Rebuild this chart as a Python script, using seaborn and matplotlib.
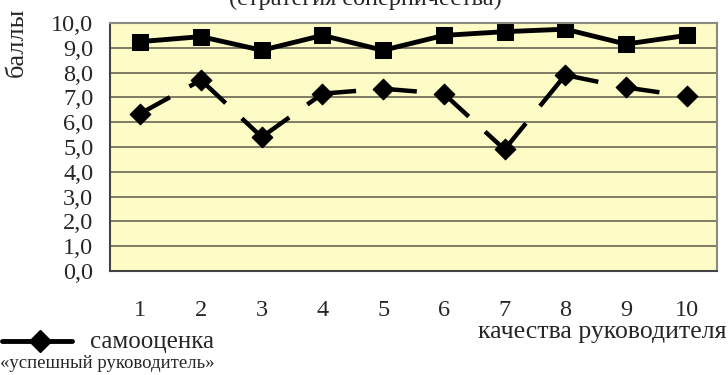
import matplotlib
matplotlib.use("Agg")
import matplotlib.pyplot as plt
import seaborn as sns
import pandas as pd

# data
qualities = [1, 2, 3, 4, 5, 6, 7, 8, 9, 10]
ideal = [9.25, 9.45, 8.9, 9.5, 8.9, 9.5, 9.65, 9.75, 9.15, 9.5]
self_score = [6.35, 7.7, 5.4, 7.15, 7.35, 7.15, 4.9, 7.9, 7.4, 7.05]
y_ticks = [0, 1, 2, 3, 4, 5, 6, 7, 8, 9, 10]

df = pd.DataFrame({"q": qualities, "ideal": ideal, "self": self_score})

sns.set_style("white")
plt.rcParams["font.family"] = ["Liberation Serif", "DejaVu Serif"]

fig = plt.figure(figsize=(7.28, 3.75), dpi=100)
ax = fig.add_axes([110 / 728, 1 - 271 / 375, 607 / 728, 248 / 375])
ax.set_facecolor("#fdfcc6")

ax.set_ylim(0, 10)
ax.set_xlim(0.5, 10.5)
ax.set_yticks(y_ticks)
ax.set_yticklabels([f"{v},0" for v in y_ticks], fontsize=17.5)
ax.yaxis.grid(True, color="#5a5a48", linewidth=1.1)
ax.set_axisbelow(True)

# solid line with squares
sns.lineplot(data=df, x="q", y="ideal", ax=ax, color="black", linewidth=3.5,
             marker="s", markersize=11.5, markeredgecolor="black")

# dashed line, dash pattern restarts on every segment (like the source)
for i in range(len(qualities) - 1):
    sns.lineplot(data=df.iloc[i:i + 2], x="q", y="self", ax=ax, color="black",
                 linewidth=3.2, linestyle=(0, (7.6, 5.0)))
sns.scatterplot(data=df, x="q", y="self", ax=ax, color="black", marker="D",
                s=110, edgecolor="black", zorder=5)

# x ticks at boundaries, labels in between
ax.set_xticks([i + 0.5 for i in range(0, 11)])
ax.set_xticklabels([])
ax.set_xticks(qualities, minor=True)
ax.set_xticklabels([str(q) for q in qualities], minor=True, fontsize=17.5)
ax.tick_params(axis="x", which="major", length=7, direction="out", color="#444444")
ax.tick_params(axis="x", which="minor", length=0, pad=21)
ax.tick_params(axis="y", length=4, direction="out", color="#444444", pad=8)
ax.set_xlabel("")
ax.set_ylabel("")

for s in ["top", "right"]:
    ax.spines[s].set_color("#8a8a80")
    ax.spines[s].set_linewidth(1.5)
for s in ["left", "bottom"]:
    ax.spines[s].set_color("#444444")
    ax.spines[s].set_linewidth(1.5)

# texts
fig.text(365 / 728, 1 - 5 / 375, "(стратегия соперничества)", ha="center",
         va="baseline", fontsize=17.5)
fig.text(17 / 728, 1 - 42 / 375, "баллы", rotation=90, ha="center", va="center",
         fontsize=19)
fig.text(726 / 728, 1 - 332 / 375, "качества руководителя", ha="right", va="center",
         fontsize=18.5)

# legend
fig.text(90 / 728, 1 - 342 / 375, "самооценка", ha="left", va="center", fontsize=18)
fig.text(0 / 728, 1 - 364 / 375, "«успешный руководитель»", ha="left", va="center",
         fontsize=13.5)
fig.lines.append(plt.Line2D([2 / 728, 72 / 728], [1 - 341 / 375, 1 - 341 / 375],
                            transform=fig.transFigure, color="black", linewidth=3.5))
fig.lines.append(plt.Line2D([40 / 728], [1 - 341 / 375], transform=fig.transFigure,
                            color="black", marker="D", markersize=11))

fig.savefig("out.png", dpi=100)
